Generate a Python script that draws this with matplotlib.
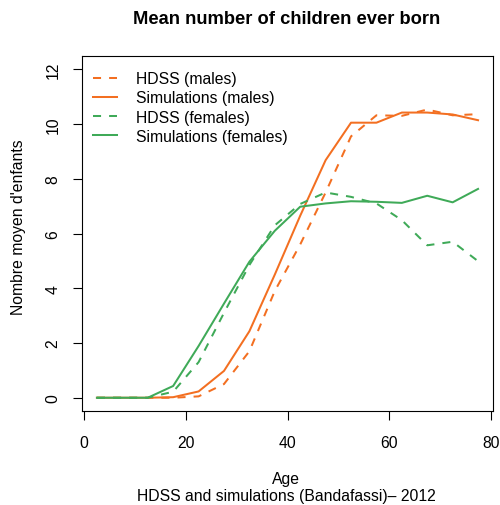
import matplotlib
matplotlib.use("Agg")
import matplotlib.pyplot as plt

plt.rcParams['font.family'] = ['Liberation Sans', 'DejaVu Sans']

# age group midpoints and mean number of children ever born
age = [2.5, 7.5, 12.5, 17.5, 22.5, 27.5, 32.5, 37.5, 42.5, 47.5,
       52.5, 57.5, 62.5, 67.5, 72.5, 77.5]
hdss_males = [0, 0, 0, 0, 0.05, 0.5, 1.7, 3.9, 5.6, 7.5,
              9.55, 10.32, 10.3, 10.53, 10.32, 10.36]
sim_males = [0, 0, 0, 0.02, 0.23, 0.98, 2.43, 4.5, 6.65, 8.68,
             10.05, 10.05, 10.42, 10.42, 10.35, 10.14]
hdss_females = [0, 0, 0, 0.22, 1.3, 3.1, 4.85, 6.3, 7.08, 7.5,
                7.34, 7.1, 6.49, 5.57, 5.7, 4.99]
sim_females = [0, 0, 0, 0.43, 1.89, 3.44, 4.97, 6.1, 6.98, 7.1,
               7.18, 7.16, 7.12, 7.38, 7.14, 7.63]

orange = '#F36F21'
green = '#3FAA58'

fig = plt.figure(figsize=(5.0, 5.06), dpi=100)
ax = fig.add_axes([0.1634, 0.186, 0.8232, 0.701])

lw = 1.45
ax.plot(age, hdss_males, color=orange, lw=lw, dashes=(4, 4), label='HDSS (males)')
ax.plot(age, sim_males, color=orange, lw=lw, label='Simulations (males)')
ax.plot(age, hdss_females, color=green, lw=lw, dashes=(4, 4), label='HDSS (females)')
ax.plot(age, sim_females, color=green, lw=lw, label='Simulations (females)')

ax.set_xlim(-0.5, 80.5)
ax.set_ylim(-0.48, 12.48)
ax.set_xticks([0, 20, 40, 60, 80])
ax.set_yticks([0, 2, 4, 6, 8, 10, 12])
ax.tick_params(axis='both', direction='out', length=6.7, width=0.8,
               labelsize=11.3, colors='black')
ax.tick_params(axis='x', pad=11)
ax.tick_params(axis='y', pad=8.6, labelrotation=90)
for lab in ax.get_yticklabels():
    lab.set_verticalalignment('center')
for sp in ax.spines.values():
    sp.set_linewidth(0.8)

ax.legend(loc='upper left', bbox_to_anchor=(0.028, 0.958), frameon=False,
          fontsize=11.3, handlelength=1.5, handletextpad=1.2,
          labelspacing=0.27, borderpad=0, borderaxespad=0)

fig.text(0.5725, 1 - 19 / 506, 'Mean number of children ever born',
         ha='center', va='center', fontsize=13.2, fontweight='bold')
fig.text(0.5725, 1 - 480 / 506, 'Age', ha='center', va='center', fontsize=11.3)
fig.text(0.5725, 1 - 497 / 506, 'HDSS and simulations (Bandafassi)\u2013 2012',
         ha='center', va='center', fontsize=11.3)
fig.text(18.3 / 500, 1 - 227 / 506, "Nombre moyen d'enfants", rotation=90,
         ha='center', va='center', fontsize=11.3)

fig.savefig('out.png', dpi=100)
